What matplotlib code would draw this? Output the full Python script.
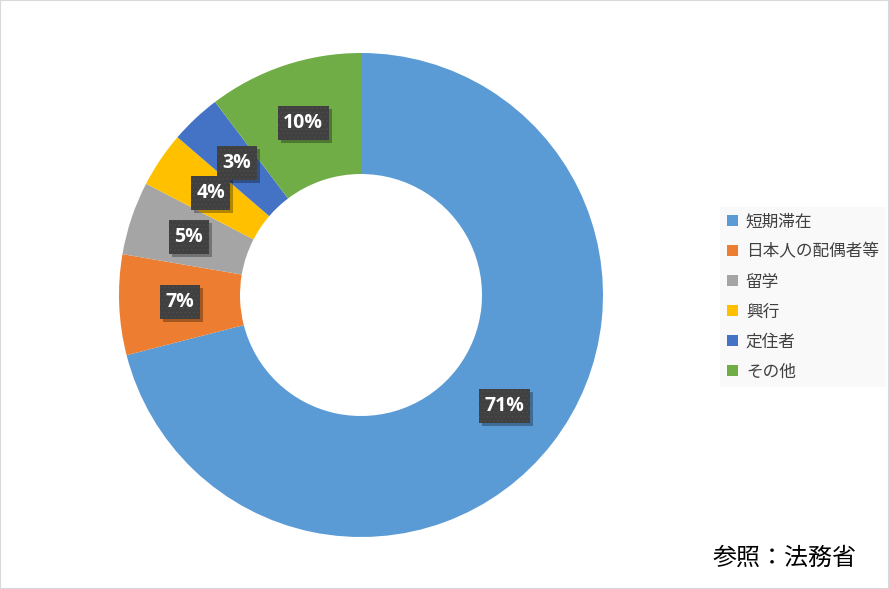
import matplotlib
matplotlib.use("Agg")
import matplotlib.pyplot as plt
from matplotlib.patches import Rectangle
import numpy as np

plt.rcParams['font.family'] = ['Noto Sans CJK JP', 'DejaVu Sans']
plt.rcParams['hatch.linewidth'] = 0.6

categories = ['短期滞在', '日本人の配偶者等', '留学', '興行', '定住者', 'その他']
values = [71.0, 6.7, 4.9, 3.7, 3.4, 10.3]
colors = ['#5B9BD5', '#ED7D31', '#A5A5A5', '#FFC000', '#4472C4', '#70AD47']
source_text = '参照：法務省'

W, H = 889, 589
fig = plt.figure(figsize=(W / 100, H / 100), dpi=100)
fig.patch.set_facecolor('white')

cx, cy, R = 361, 295, 242
ax = fig.add_axes([(cx - R) / W, (H - cy - R) / H, 2 * R / W, 2 * R / H])
ax.set_aspect('equal')

wedges, _ = ax.pie(values, colors=colors, startangle=90, counterclock=False,
                   radius=1.0, wedgeprops=dict(width=0.5, linewidth=0))
ax.set_xlim(-1.0, 1.0)
ax.set_ylim(-1.0, 1.0)

total = sum(values)
texts = []
for w, v in zip(wedges, values):
    ang = np.deg2rad((w.theta1 + w.theta2) / 2)
    x, y = 0.75 * np.cos(ang), 0.75 * np.sin(ang)
    lab = f"{round(v / total * 100):d}%"
    t = ax.text(x, y, lab, ha='center', va='center', fontsize=14,
                fontweight='bold', family='Open Sans', color='white', zorder=5)
    texts.append((t, x, y))

fig.canvas.draw()
renderer = fig.canvas.get_renderer()
px = 1.0 / R  # data units per pixel
for t, x, y in texts:
    bb = t.get_window_extent(renderer)
    bw = (bb.width + 11) * px
    bh = 34 * px
    ax.add_patch(Rectangle((x - bw / 2 + 3 * px, y - bh / 2 - 3 * px), bw, bh,
                           fc='black', ec='none', alpha=0.3, zorder=3))
    ax.add_patch(Rectangle((x - bw / 2, y - bh / 2), bw, bh,
                           fc='#404040', ec='#4C4C4C', lw=0, hatch='....', zorder=4))

leg = fig.legend(wedges, categories, loc='upper left',
                 bbox_to_anchor=(720 / W, 1 - 207 / H), frameon=True,
                 fontsize=12, handlelength=0.65, handleheight=0.65,
                 handletextpad=0.5, labelspacing=0.78, borderpad=0.4,
                 borderaxespad=0, labelcolor='#404040')
leg.get_frame().set_facecolor('#F8F8F8')
leg.get_frame().set_edgecolor('none')
leg.get_frame().set_boxstyle('square', pad=0)

fig.text(713 / W, 1 - 558 / H, source_text, fontsize=17.3, ha='left', va='center',
         color='black')

fig.patches.append(Rectangle((0, 0), 1, 1, transform=fig.transFigure,
                             fill=False, ec='#D9D9D9', lw=1.5))

fig.savefig('out.png', dpi=100)
